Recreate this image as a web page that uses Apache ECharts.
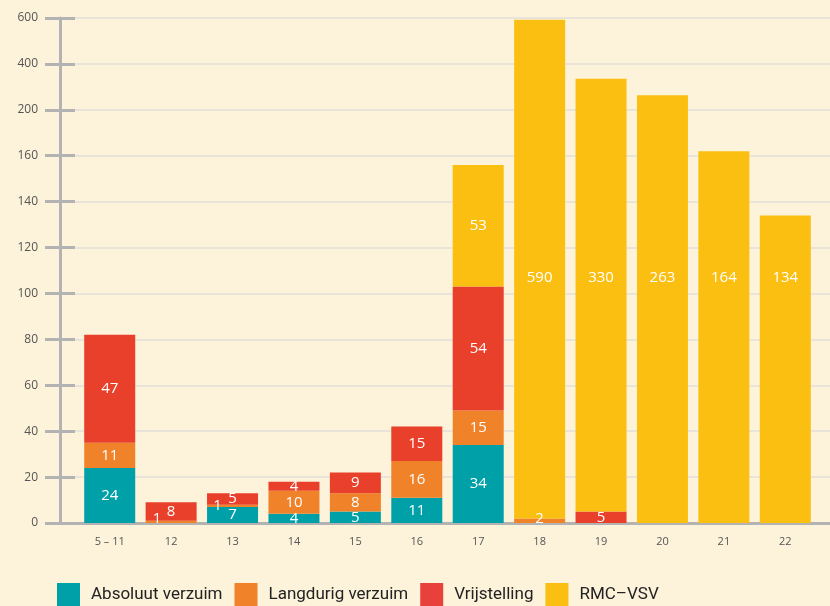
<!DOCTYPE html>
<html><head><meta charset="utf-8">
<script src="https://cdn.jsdelivr.net/npm/echarts@6/dist/echarts.min.js"></script>
<style>html,body{margin:0;padding:0;background:#fdf2da}#c{width:830px;height:606px}</style>
</head><body><div id="c"></div>
<script>
const categories = ['5 – 11','12','13','14','15','16','17','18','19','20','21','22'];
const absoluut   = [24, 0, 7, 4, 5, 11, 34, 0, 0, 0, 0, 0];
const langdurig  = [11, 1, 1, 10, 8, 16, 15, 2, 0, 0, 0, 0];
const vrijstelling = [47, 8, 5, 4, 9, 15, 54, 0, 5, 0, 0, 0];
const rmcvsv     = [0, 0, 0, 0, 0, 0, 53, 590, 330, 263, 164, 134];
const tickLabels = ['0','20','40','60','80','100','120','140','160','200','400','600'];
const tickValues = [0,20,40,60,80,100,120,140,160,200,400,600];

// piecewise linear scale following the broken axis of the reference
function scale(v){
  for (let i = 1; i < tickValues.length; i++) {
    if (v <= tickValues[i]) {
      return (i-1) + (v - tickValues[i-1]) / (tickValues[i] - tickValues[i-1]);
    }
  }
  return tickValues.length - 1;
}
const names = ['Absoluut verzuim','Langdurig verzuim','Vrijstelling','RMC–VSV'];
const raws = [absoluut, langdurig, vrijstelling, rmcvsv];
const colors = ['#00a0a9','#f0822a','#e8402a','#fbbf12'];
const legendColors = ['#00a0a9','#f0822a','#e8403a','#fbbf12'];
// label placement tweaks (category-series)
const labelTweaks = {
  '1-1': { offset: [-14, -3] },
  '2-1': { offset: [-15, 0] },
  '7-1': { offset: [0, -2] },
  '7-3': { position: 'insideBottom', distance: 233 },
  '8-3': { position: 'insideBottom', distance: 226 },
  '9-3': { position: 'insideBottom', distance: 238 },
  '10-3': { position: 'insideBottom', distance: 238 },
  '11-3': { position: 'insideBottom', distance: 238 }
};

const cum = categories.map(() => 0);
const series = raws.map((raw, si) => {
  const data = raw.map((v, ci) => {
    const lo = cum[ci], hi = cum[ci] + v;
    cum[ci] = hi;
    const item = { value: scale(hi) - scale(lo), raw: v };
    const key = ci + '-' + si;
    if (labelTweaks[key]) item.label = labelTweaks[key];
    return item;
  });
  return {
    name: names[si], type: 'bar', stack: 'total', xAxisIndex: 1, yAxisIndex: 2,
    barWidth: 51, itemStyle: { color: colors[si] },
    label: {
      show: true, position: 'inside', color: '#fff', fontSize: 15,
      fontFamily: 'Open Sans', fontWeight: 500,
      formatter: p => p.data.raw ? String(p.data.raw) : ''
    },
    data
  };
});

const chart = echarts.init(document.getElementById('c'));
chart.setOption({
  backgroundColor: '#fdf2da',
  animation: false,
  grid: [
    { left: 60, right: 0, top: 18, bottom: 83 },
    { left: 79, right: 14, top: 18, bottom: 83 }
  ],
  legend: {
    left: 57, top: 583, padding: 0, itemWidth: 23, itemHeight: 23, itemGap: 12,
    icon: 'rect',
    textStyle: { fontSize: 17, color: '#222', fontFamily: 'Liberation Sans Narrow, Roboto', padding: [0,0,0,6] },
    data: names.map((n, i) => ({ name: n, itemStyle: { color: legendColors[i] } }))
  },
  xAxis: [
    { gridIndex: 0, type: 'value', min: 0, max: 1,
      axisLine: { show: true, lineStyle: { color: '#b3b3b3', width: 3 } },
      axisTick: { show: false }, axisLabel: { show: false }, splitLine: { show: false } },
    { gridIndex: 1, type: 'category', data: categories,
      axisLine: { show: false }, axisTick: { show: false },
      axisLabel: { color: '#555', fontSize: 11, margin: 13, fontFamily: 'Open Sans' } }
  ],
  yAxis: [
    { gridIndex: 0, type: 'value', position: 'left', min: 0, max: 11, interval: 1,
      axisLine: { show: true, lineStyle: { color: '#b3b3b3', width: 3 } },
      axisTick: { show: true, length: 15, lineStyle: { color: '#b3b3b3', width: 3 } },
      axisLabel: { margin: 22, color: '#555', fontSize: 12, fontFamily: 'Open Sans',
        formatter: v => tickLabels[Math.round(v)] },
      splitLine: { show: true, lineStyle: { color: '#e8e4da', width: 2 } } },
    { gridIndex: 0, type: 'value', position: 'left', min: 0, max: 11, interval: 1,
      axisLine: { show: false },
      axisTick: { show: true, inside: true, length: 15, lineStyle: { color: '#b3b3b3', width: 3 } },
      axisLabel: { show: false }, splitLine: { show: false } },
    { gridIndex: 1, type: 'value', min: 0, max: 11, interval: 1, show: false }
  ],
  series
});
</script></body></html>
